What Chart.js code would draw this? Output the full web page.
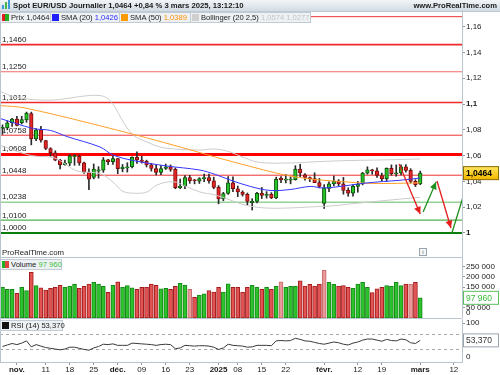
<!DOCTYPE html>
<html><head><meta charset="utf-8">
<script src="https://cdn.jsdelivr.net/npm/chart.js@4.4.1/dist/chart.umd.min.js"></script>
<style>
*{box-sizing:border-box}
html,body{margin:0;padding:0;background:#fff}
#w{position:relative;width:500px;height:375px;overflow:hidden;font-family:"Liberation Sans",Arial,sans-serif;color:#1a1a1a}
canvas{position:absolute;left:0}
.hd{position:absolute;left:0;top:0;width:500px;height:12px;background:linear-gradient(#f2f5f8,#d2dbe3);border-bottom:1px solid #bfc9d3}
.tt{position:absolute;left:13px;top:0;height:12px;line-height:12px;font-weight:bold;font-size:7.7px;white-space:nowrap}
.ws{position:absolute;right:3px;top:0;line-height:12px;font-weight:bold;font-size:7.6px;white-space:nowrap}
.lg{position:absolute;height:11px;background:#eef1f4;border:1px solid #c3ccd5;font-size:7.6px;line-height:9px;white-space:nowrap;padding-left:10px;color:#1a1a1a}
.sq{position:absolute;left:1px;top:1px;width:7px;height:7px}
.vl{position:absolute;background:#b9c4cf}
.ic{position:absolute;width:2px;bottom:2px}
.wm{position:absolute;left:2px;top:249px;font-size:7.8px;line-height:8px;color:#222}
.info{position:absolute;left:419px;top:248px;width:8px;height:8px;border:1px solid #98a4b0;font-size:6px;line-height:6px;text-align:center;color:#566;background:#f4f6f8}
</style></head>
<body><div id="w">
<canvas id="cp" width="500" height="246" style="top:12px"></canvas>
<canvas id="cv" width="500" height="60" style="top:258px"></canvas>
<canvas id="cr" width="500" height="56" style="top:319px"></canvas>
<div class="vl" style="left:0;top:12px;width:1px;height:350px"></div>
<div class="vl" style="left:0;top:257px;width:462px;height:1px"></div>
<div class="vl" style="left:0;top:318px;width:462px;height:1px"></div>
<div class="hd"></div>
<div style="position:absolute;left:2px;top:1px;width:9px;height:10px">
 <div class="ic" style="left:0;height:4px;background:#3c9ad8"></div>
 <div class="ic" style="left:3px;height:7px;background:#48b848"></div>
 <div class="ic" style="left:6px;height:9px;background:#3c9ad8"></div>
</div>
<div class="tt">Spot EUR/USD Journalier 1,0464 +0,84 % 3 mars 2025, 13:12:10</div>
<div class="ws">www.ProRealTime.com</div>
<div class="lg" style="left:0;top:12px;width:51px"><div class="sq" style="background:linear-gradient(90deg,#e02020 50%,#20b020 50%)"></div>Prix 1,0464</div>
<div class="lg" style="left:50px;top:12px;width:70px"><div class="sq" style="background:#2020ff"></div>SMA (20) <span style="color:#2a2aff">1,0426</span></div>
<div class="lg" style="left:119px;top:12px;width:72px"><div class="sq" style="background:#ff9900"></div>SMA (50) <span style="color:#ff9100">1,0389</span></div>
<div class="lg" style="left:190px;top:12px;width:121px"><div class="sq" style="background:#cfcfcf"></div>Bollinger (20 2,5) <span style="color:#c4c4c4">1,0574 1,0277</span></div>
<div class="wm">ProRealTime.com</div>
<div class="info">i</div>
<div class="lg" style="left:0;top:259px;width:62px"><div class="sq" style="background:linear-gradient(90deg,#20b020 50%,#e04040 50%)"></div>Volume <span style="color:#3cc23c">97 960</span></div>
<div class="lg" style="left:0;top:320px;width:63px"><div class="sq" style="background:#111"></div>RSI (14) 53,370</div>
</div>
<script>
// ---------- DATA ----------
const opens  = [1.0812,1.0815,1.0855,1.0884,1.0855,1.0877,1.0925,1.0730,1.0800,1.0716,1.0654,1.0622,1.0565,1.0530,1.0542,1.0592,1.0594,1.0544,1.0472,1.0430,1.0480,1.0487,1.0568,1.0553,1.0577,1.0498,1.0505,1.0512,1.0586,1.0566,1.0555,1.0528,1.0500,1.0470,1.0500,1.0512,1.0494,1.0351,1.0364,1.0430,1.0406,1.0402,1.0422,1.0429,1.0405,1.0354,1.0265,1.0306,1.0389,1.0343,1.0318,1.0300,1.0235,1.0245,1.0308,1.0291,1.0300,1.0272,1.0425,1.0410,1.0410,1.0413,1.0496,1.0450,1.0430,1.0422,1.0390,1.0230,1.0345,1.0381,1.0403,1.0381,1.0330,1.0308,1.0362,1.0380,1.0464,1.0490,1.0482,1.0446,1.0422,1.0502,1.0459,1.0465,1.0513,1.0486,1.0400,1.0380];
const highs  = [1.0838,1.0870,1.0889,1.0905,1.0905,1.0937,1.0937,1.0810,1.0826,1.0719,1.0661,1.0637,1.0571,1.0566,1.0607,1.0609,1.0605,1.0549,1.0497,1.0535,1.0514,1.0585,1.0572,1.0597,1.0578,1.0531,1.0545,1.0590,1.0630,1.0595,1.0565,1.0540,1.0525,1.0522,1.0535,1.0528,1.0505,1.0418,1.0445,1.0447,1.0416,1.0429,1.0456,1.0457,1.0433,1.0368,1.0315,1.0437,1.0436,1.0364,1.0327,1.0310,1.0266,1.0315,1.0353,1.0321,1.0313,1.0433,1.0437,1.0453,1.0435,1.0522,1.0533,1.0460,1.0435,1.0467,1.0423,1.0375,1.0397,1.0442,1.0414,1.0431,1.0350,1.0375,1.0400,1.0470,1.0513,1.0494,1.0505,1.0464,1.0505,1.0528,1.0528,1.0528,1.0530,1.0499,1.0413,1.0480];
const lows   = [1.0765,1.0800,1.0826,1.0830,1.0845,1.0858,1.0683,1.0715,1.0704,1.0646,1.0595,1.0560,1.0496,1.0525,1.0522,1.0525,1.0525,1.0462,1.0335,1.0420,1.0425,1.0470,1.0530,1.0532,1.0460,1.0474,1.0472,1.0505,1.0540,1.0542,1.0512,1.0480,1.0450,1.0452,1.0492,1.0478,1.0343,1.0343,1.0344,1.0385,1.0381,1.0384,1.0397,1.0386,1.0343,1.0226,1.0250,1.0300,1.0320,1.0282,1.0286,1.0215,1.0178,1.0234,1.0267,1.0270,1.0266,1.0266,1.0390,1.0388,1.0381,1.0410,1.0437,1.0410,1.0398,1.0390,1.0350,1.0190,1.0320,1.0365,1.0364,1.0301,1.0285,1.0285,1.0316,1.0373,1.0456,1.0456,1.0430,1.0405,1.0400,1.0448,1.0440,1.0450,1.0472,1.0387,1.0360,1.0375];
const closes = [1.0818,1.0855,1.0884,1.0833,1.0880,1.0930,1.0730,1.0800,1.0719,1.0655,1.0622,1.0565,1.0530,1.0541,1.0598,1.0597,1.0543,1.0472,1.0418,1.0495,1.0490,1.0568,1.0553,1.0577,1.0498,1.0511,1.0512,1.0586,1.0566,1.0555,1.0528,1.0500,1.0470,1.0500,1.0512,1.0493,1.0351,1.0364,1.0430,1.0406,1.0405,1.0422,1.0429,1.0405,1.0354,1.0265,1.0306,1.0389,1.0343,1.0318,1.0300,1.0244,1.0245,1.0308,1.0291,1.0300,1.0272,1.0417,1.0412,1.0418,1.0413,1.0496,1.0465,1.0430,1.0422,1.0390,1.0362,1.0350,1.0381,1.0403,1.0381,1.0330,1.0308,1.0362,1.0380,1.0464,1.0490,1.0482,1.0446,1.0422,1.0502,1.0459,1.0465,1.0513,1.0486,1.0400,1.0375,1.0464];
const volumes = [149000,139000,139000,120000,149000,133000,222000,157000,147000,136000,144000,149000,159000,149000,155000,163000,144000,154000,165000,173000,165000,154000,125000,159000,175000,149000,157000,147000,139000,149000,149000,165000,159000,141000,144000,139000,154000,168000,160000,139000,100000,110000,117000,133000,126000,149000,126000,166000,149000,149000,126000,149000,159000,149000,139000,149000,139000,154000,175000,149000,154000,155000,181000,155000,163000,155000,165000,231000,173000,163000,155000,157000,149000,144000,165000,173000,149000,123000,141000,149000,157000,154000,173000,157000,165000,165000,173000,97960];
// 1 = up (green), 0 = down (red), 2 = down (pale red)
const volumeDir = [1,1,1,0,1,1,0,1,0,0,0,0,0,1,1,1,0,0,0,1,1,1,0,1,0,1,1,1,0,0,0,0,0,1,1,0,0,1,1,2,0,1,1,0,0,0,1,1,0,0,0,0,1,1,0,1,0,1,2,1,1,1,0,0,0,0,0,2,1,1,0,0,0,1,1,1,1,0,0,0,1,1,1,1,0,2,0,1];
const rsiValues = [37,41,45,42,46,52,36,42,38,34,32,30,28,30,35,35,32,29,27,33,37,43,42,44,40,40,40,46,45,44,43,42,40,42,43,42,31,33,40,39,38,39,39,38,35,29,33,43,40,39,38,35,36,40,40,40,39,52,53,52,53,59,56,52,51,48,45,43,46,49,47,43,41,46,49,54,57,57,54,51,56,53,52,57,55,47,45,53.37];
const sma20Idx = [-0.52,6.4,10,13.4,20.3,23,27.2,34.3,41.1,44.3,47.4,51.6,55.7,59.9,64.1,66.8,71,75.1,79.3,82.8,87];
const sma20Val = [1.0888,1.0810,1.0795,1.0748,1.0667,1.0605,1.0562,1.0519,1.0488,1.0454,1.0411,1.0361,1.0330,1.0337,1.0361,1.0349,1.0364,1.0385,1.0399,1.0409,1.0426];
const sma50Idx = [-0.52,4.7,23.4,37,44.3,51.6,57.2,61.4,66.1,71,76,80.7,87];
const sma50Val = [1.0988,1.0969,1.0802,1.0667,1.0589,1.0516,1.0463,1.0432,1.0411,1.0398,1.0385,1.0384,1.0389];
const bbUpIdx = [-0.52,2.6,7.8,12,16.1,20.3,22,23.4,24.9,27.2,30.1,32.8,35.9,41.1,44.3,47.4,50.5,53.6,59.9,66.1,72.4,78.6,87];
const bbUpVal = [1.1097,1.1054,1.1031,1.1035,1.1058,1.1066,1.1039,1.0977,1.0876,1.0760,1.0705,1.0667,1.0651,1.0643,1.0651,1.0628,1.0581,1.0547,1.0543,1.0554,1.0562,1.0566,1.0574];
const bbLowIdx = [-0.52,6,10.9,15.5,20.3,23,25.1,28,30.1,32.2,35.5,38.4,41.1,44.3,47.4,50.5,54.7,59.9,64.1,68.2,72.4,78.6,87];
const bbLowVal = [1.0680,1.0600,1.0581,1.0481,1.0461,1.0395,1.0322,1.0308,1.0318,1.0372,1.0398,1.0359,1.0318,1.0295,1.0256,1.0217,1.0194,1.0194,1.0202,1.0209,1.0225,1.0248,1.0277];
const levelValues = [1.1677,1.1460,1.1250,1.1012,1.0758,1.0608,1.0448,1.0238,1.0100,1.0000];
const levelLabels = ['1,1677','1,1460','1,1250','1,1012','1,0758','1,0608','1,0448','1,0238','1,0100','1,0000'];
const levelKind = ['r','R','r2','R','r','RR','r','g2','g','G'];
// arrows: [x1, y1, x2, y2, colour kind, head]
const arrows = [[82.6,1.0535,87.0,1.0147,'red',1],[87.6,1.0163,90.3,1.0395,'green',1],[90.5,1.0403,93.4,1.0039,'red',1],[93.6,1.0000,96.5,1.0350,'green',0]];
const priceTicks = [1,1.02,1.04,1.06,1.08,1.1,1.12,1.14,1.16];
const volumeTicks = [50000,150000,200000,250000];
const rsiTicks = [100];
const xTickIdx = [3,9,14,19,24,29,34,39,45,49,54,59,67,74,79,87,94];
const xTickLabels = ['nov.','11','18','25','déc.','09','16','23','2025','08','15','22','févr.','12','19','mars','12'];
const xTickBold = ['nov.','déc.','2025','févr.','mars'];
const lastPrice = 1.0464, lastVolume = 97960, lastRsi = 53.37;

// ---------- helpers ----------
Chart.defaults.font.family = '"Liberation Sans", Arial, sans-serif';
Chart.defaults.font.size = 8;
Chart.defaults.color = '#1a1a1a';
const XMIN = -0.52, XMAX = 95.7;
function fitY(s){ s.width = 38; s.paddingTop = 0; s.paddingBottom = 0; }
function fitX(s){ s.height = 13; s.paddingLeft = 0; s.paddingRight = 0; }
const comma = v => String(+v.toFixed(2)).replace('.', ',');
const comma4 = v => v.toFixed(4).replace('.', ',');
const spaced = v => String(Math.round(v)).replace(/\B(?=(\d{3})+(?!\d))/g, ' ');
const pts = (ix, vals) => ix.map((x, i) => ({x, y: vals[i]}));
function yAxis(min, max, ticks, fmt, fontFn){
  return {position:'right', min, max, afterFit: fitY,
    afterBuildTicks: s => { s.ticks = ticks.map(v => ({value:v})); },
    grid:{drawOnChartArea:false, tickLength:3, color:'#8a96a2'},
    border:{display:true, color:'#b9c4cf'},
    ticks:{padding:1, callback: fmt, font: fontFn || {size:8}, color:'#1a1a1a'}};
}
const xHidden = {type:'linear', min:XMIN, max:XMAX, offset:false, display:false};
const base = {responsive:false, animation:false, events:[], layout:{padding:0},
  plugins:{legend:{display:false}, tooltip:{enabled:false}}};
function badge(ctx, y, text, bg, border, color, bold){
  ctx.save();
  ctx.font = (bold?'bold ':'') + '8.5px "Liberation Sans", Arial';
  ctx.fillStyle = bg; ctx.strokeStyle = border; ctx.lineWidth = 1;
  ctx.fillRect(463.5, y-6.5, 35, 13); ctx.strokeRect(463.5, y-6.5, 35, 13);
  ctx.fillStyle = color; ctx.textBaseline = 'middle'; ctx.textAlign = 'left';
  ctx.fillText(text, 466, y+0.5);
  ctx.restore();
}

// ---------- price ----------
const levelStyle = {r:['#ee3333',1],R:['#ee2a2a',1.6],r2:['#f26b6b',1.2],RR:['#ff0000',3],g2:['#96d296',1.6],g:['#4fb04f',1.1],G:['#0b7d0b',2]};
const pricePlugin = {
  id:'pricePlugin',
  beforeDatasetsDraw(chart){
    const {ctx, chartArea:a, scales:{y}} = chart;
    ctx.save();
    levelValues.forEach((v, i) => {
      const py = y.getPixelForValue(v), st = levelStyle[levelKind[i]];
      ctx.strokeStyle = st[0]; ctx.lineWidth = st[1];
      ctx.beginPath(); ctx.moveTo(a.left, py); ctx.lineTo(a.right, py); ctx.stroke();
      ctx.fillStyle = '#1a1a1a'; ctx.font = '8px "Liberation Sans", Arial';
      ctx.textBaseline = 'alphabetic'; ctx.fillText(levelLabels[i], a.left + 2, py - st[1]/2 - 2);
    });
    ctx.restore();
  },
  afterDatasetsDraw(chart){
    const {ctx, chartArea:a, scales:{x, y}} = chart;
    ctx.save();
    ctx.beginPath(); ctx.rect(a.left, a.top, a.right - a.left, a.bottom - a.top); ctx.clip();
    arrows.forEach(([x1, y1, x2, y2, c, head]) => {
      const col = c === 'red' ? '#e41e1e' : '#1f8f1f';
      const p1x = x.getPixelForValue(x1), p1y = y.getPixelForValue(y1);
      const p2x = x.getPixelForValue(x2), p2y = y.getPixelForValue(y2);
      ctx.strokeStyle = col; ctx.fillStyle = col; ctx.lineWidth = 1.3;
      ctx.beginPath(); ctx.moveTo(p1x, p1y); ctx.lineTo(p2x, p2y); ctx.stroke();
      if (head){
        const ang = Math.atan2(p2y - p1y, p2x - p1x), L = 8, W = 0.45;
        ctx.beginPath(); ctx.moveTo(p2x, p2y);
        ctx.lineTo(p2x - L*Math.cos(ang - W), p2y - L*Math.sin(ang - W));
        ctx.lineTo(p2x - L*Math.cos(ang + W), p2y - L*Math.sin(ang + W));
        ctx.closePath(); ctx.fill();
      }
    });
    ctx.restore();
  },
  afterDraw(chart){
    const y = chart.scales.y, py = y.getPixelForValue(lastPrice);
    const g = chart.ctx.createLinearGradient(0, py-6, 0, py+6);
    g.addColorStop(0, '#ffe45c'); g.addColorStop(1, '#f5b800');
    badge(chart.ctx, py, comma4(lastPrice), g, '#8a6d00', '#000', true);
  }
};
const up = closes.map((c, i) => c >= opens[i]);
const isBoldPrice = c => !!(c && c.tick) && (Math.abs(c.tick.value-1) < 1e-6 || Math.abs(c.tick.value-1.1) < 1e-6);
new Chart(document.getElementById('cp'), {
  type:'bar',
  data:{datasets:[
    {type:'line', data:pts(sma20Idx, sma20Val), borderColor:'#3535ff', borderWidth:1, pointRadius:0, tension:0.35, order:1},
    {type:'line', data:pts(sma50Idx, sma50Val), borderColor:'#ffa12a', borderWidth:1, pointRadius:0, tension:0.35, order:2},
    {type:'line', data:pts(bbUpIdx, bbUpVal), borderColor:'#cccccc', borderWidth:1, pointRadius:0, tension:0.35, order:3},
    {type:'line', data:pts(bbLowIdx, bbLowVal), borderColor:'#cccccc', borderWidth:1, pointRadius:0, tension:0.35, order:4},
    {data:opens.map((o, i) => ({x:i, y:[Math.min(o, closes[i]), Math.max(o, closes[i])]})),
     backgroundColor:up.map(u => u ? '#27c427' : '#e32626'), borderColor:up.map(u => u ? '#0c4f0c' : '#7d0d0d'),
     borderWidth:1, borderSkipped:false, barThickness:3.6, minBarLength:1, grouped:false, order:5},
    {data:lows.map((l, i) => ({x:i, y:[l, highs[i]]})), backgroundColor:'#2a2a2a', barThickness:1, grouped:false, order:6}
  ]},
  options:{...base, scales:{x:xHidden,
    y:yAxis(0.98062, 1.171318, priceTicks, v => comma(v),
      c => ({size:8, weight: isBoldPrice(c) ? 'bold' : 'normal'}))}},
  plugins:[pricePlugin]
});

// ---------- volume ----------
const volCol = ['#e25353', '#2dc22d', '#e89a9a'], volBorder = ['#a21c1c', '#168a16', '#c86a6a'];
const volPlugin = {id:'volPlugin', afterDraw(chart){
  const {ctx, scales:{y}} = chart;
  ctx.save(); ctx.font = '8px "Liberation Sans", Arial'; ctx.fillStyle = '#1a1a1a'; ctx.textBaseline = 'middle';
  ctx.fillText('0', 466, y.getPixelForValue(0) - 5); ctx.restore();
  badge(ctx, y.getPixelForValue(lastVolume), spaced(lastVolume), '#ffffff', '#5cc05c', '#3cbf3c', false);
}};
new Chart(document.getElementById('cv'), {
  type:'bar',
  data:{datasets:[{data:volumes.map((v, i) => ({x:i, y:v})),
    backgroundColor:volumeDir.map(d => volCol[d]), borderColor:volumeDir.map(d => volBorder[d]),
    borderWidth:1, borderSkipped:false, barThickness:4, grouped:false}]},
  options:{...base, scales:{x:xHidden, y:yAxis(0, 291262, volumeTicks, v => spaced(v))}},
  plugins:[volPlugin]
});

// ---------- RSI ----------
const rsiPlugin = {id:'rsiPlugin',
  beforeDatasetsDraw(chart){
    const {ctx, chartArea:a, scales:{y}} = chart;
    ctx.save(); ctx.strokeStyle = '#a8a8a8'; ctx.lineWidth = 1; ctx.setLineDash([3, 3]);
    [70, 30].forEach(v => { const py = Math.round(y.getPixelForValue(v)) + 0.5;
      ctx.beginPath(); ctx.moveTo(a.left, py); ctx.lineTo(a.right, py); ctx.stroke(); });
    ctx.restore();
  },
  afterDraw(chart){
    const {ctx, scales:{y}} = chart;
    ctx.save(); ctx.font = '8px "Liberation Sans", Arial'; ctx.fillStyle = '#1a1a1a'; ctx.textBaseline = 'middle';
    ctx.fillText('0', 466, y.getPixelForValue(0) - 3); ctx.restore();
    badge(ctx, y.getPixelForValue(lastRsi), lastRsi.toFixed(3).replace('.', ','), '#ffffff', '#9aa4ae', '#333', false);
  }};
const xLabelOf = v => xTickLabels[xTickIdx.indexOf(v)];
new Chart(document.getElementById('cr'), {
  type:'line',
  data:{datasets:[{data:rsiValues.map((v, i) => ({x:i, y:v})), borderColor:'#3a3a3a', borderWidth:1, pointRadius:0, tension:0}]},
  options:{...base, scales:{
    x:{type:'linear', min:XMIN, max:XMAX, offset:false, afterFit:fitX,
      afterBuildTicks: s => { s.ticks = xTickIdx.map(v => ({value:v})); },
      grid:{drawOnChartArea:false, tickLength:3, color:'#8a96a2'}, border:{display:true, color:'#b9c4cf'},
      ticks:{autoSkip:false, maxRotation:0, padding:0, color:'#1a1a1a',
        callback: v => xLabelOf(v),
        font: c => ({size:8, weight: (c && c.tick && xTickBold.includes(xLabelOf(c.tick.value))) ? 'bold' : 'normal'})}},
    y:yAxis(-4.7, 110.74, rsiTicks, v => String(v))}},
  plugins:[rsiPlugin]
});
</script>
</body></html>
